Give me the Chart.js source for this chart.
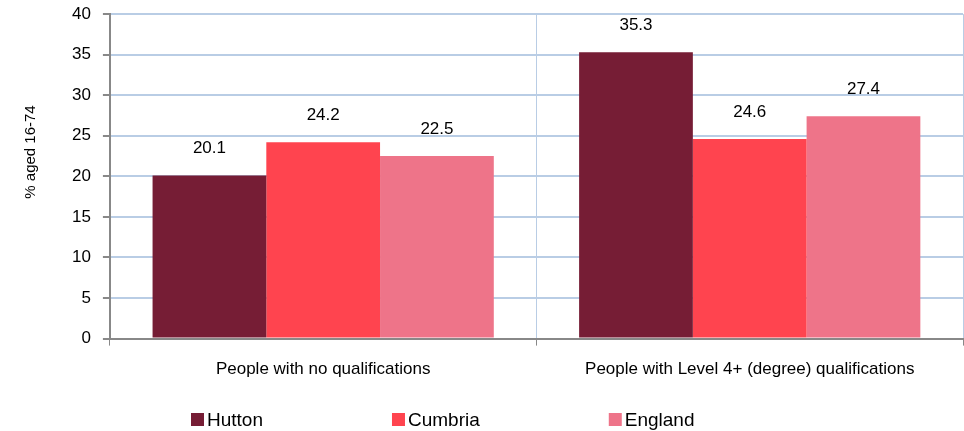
<!DOCTYPE html>
<html>
<head>
<meta charset="utf-8">
<script src="https://cdn.jsdelivr.net/npm/chart.js@4"></script>
<style>
  html, body { margin: 0; padding: 0; background: #fff; }
  #wrap { width: 964px; height: 431px; }
</style>
</head>
<body>
<div id="wrap"><canvas id="chart"></canvas></div>
<script>
const categories = ['People with no qualifications', 'People with Level 4+ (degree) qualifications']
const seriesNames = ['Hutton', 'Cumbria', 'England']
const seriesColors = ['#761d35', '#ff444f', '#ee7489']
const hutton = [20.1, 35.3]
const cumbria = [24.2, 24.6]
const england = [22.5, 27.4]
const yTicks = [0, 5, 10, 15, 20, 25, 30, 35, 40]
const yTitle = '% aged 16-74'

const FONT = '"Liberation Sans", Arial, sans-serif'

// value above each bar, y title, and the wide bottom legend
const extras = {
  id: 'extras',
  afterDatasetsDraw(chart) {
    const ctx = chart.ctx
    ctx.save()
    ctx.font = '17px ' + FONT
    ctx.fillStyle = '#000'
    ctx.textAlign = 'center'
    ctx.textBaseline = 'middle'
    chart.data.datasets.forEach((ds, i) => {
      chart.getDatasetMeta(i).data.forEach((bar, j) => {
        ctx.fillText(ds.data[j].toFixed(1), bar.x, bar.y - 27)
      })
    })

    // axis title
    ctx.save()
    ctx.font = '15px ' + FONT
    ctx.translate(31, 152)
    ctx.rotate(-Math.PI / 2)
    ctx.fillText(yTitle, 0, 0)
    ctx.restore()

    // legend
    ctx.font = '19px ' + FONT
    ctx.textAlign = 'left'
    let x = 191
    const y = 419
    chart.data.datasets.forEach(ds => {
      ctx.fillStyle = ds.backgroundColor
      ctx.fillRect(x, y - 6, 13, 13)
      ctx.fillStyle = '#000'
      ctx.fillText(ds.label, x + 16, y + 2)
      x += 16 + ctx.measureText(ds.label).width + 129
    })
    ctx.restore()
  }
}

Chart.defaults.font.family = FONT
Chart.defaults.color = '#000'

new Chart(document.getElementById('chart'), {
  type: 'bar',
  data: {
    labels: categories,
    datasets: [
      { label: seriesNames[0], data: hutton, backgroundColor: seriesColors[0] },
      { label: seriesNames[1], data: cumbria, backgroundColor: seriesColors[1] },
      { label: seriesNames[2], data: england, backgroundColor: seriesColors[2] }
    ]
  },
  plugins: [extras],
  options: {
    responsive: true,
    maintainAspectRatio: false,
    animation: false,
    layout: { padding: { left: 60, right: 1, top: 0, bottom: 37 } },
    datasets: { bar: { categoryPercentage: 0.8, barPercentage: 1.0 } },
    plugins: {
      tooltip: { enabled: false },
      legend: { display: false }
    },
    scales: {
      x: {
        grid: { color: '#b9cde5', tickColor: '#888', tickLength: 7, offset: true },
        border: { color: '#888', width: 2 },
        ticks: { font: { size: 17 }, padding: 14, color: '#000' }
      },
      y: {
        min: 0, max: 40,
        afterBuildTicks: axis => { axis.ticks = yTicks.map(v => ({ value: v })) },
        grid: { color: '#b9cde5', lineWidth: 2, tickColor: '#888', tickLength: 7 },
        border: { color: '#888', width: 2 },
        ticks: { font: { size: 17, lineHeight: 0.25 }, padding: 12, color: '#000' }
      }
    }
  }
})
</script>
</body>
</html>
